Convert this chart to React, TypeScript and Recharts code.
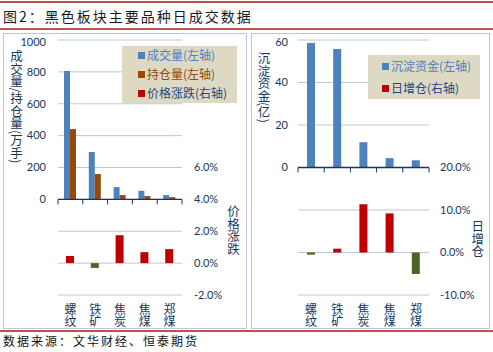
import { ComposedChart, Bar, XAxis, YAxis, CartesianGrid, ReferenceLine, Legend, Cell } from 'recharts'

const categories = ['螺纹', '铁矿', '焦炭', '焦煤', '郑煤']
const volume = [805, 297, 77, 54, 27]
const openInterest = [441, 159, 27, 21, 14]
const priceChange = [0.0045, -0.003, 0.0175, 0.0069, 0.0088]
const funds = [58.6, 55.8, 11.9, 4.4, 3.4]
const oiChange = [-0.005, 0.009, 0.1135, 0.092, -0.0505]

const volTicks = [-600, -400, -200, 0, 200, 400, 600, 800, 1000]
const priceTicks = [-0.02, 0, 0.02, 0.04, 0.06]
const fundTicks = [-60, -50, -40, -30, -20, -10, 0, 10, 20, 30, 40, 50, 60]
const oiTicks = [-0.1, 0, 0.1, 0.2]

const tradeData = categories.map((name, i) => ({
  name, volume: volume[i], openInterest: openInterest[i], priceChange: priceChange[i],
}))
const fundData = categories.map((name, i) => ({ name, funds: funds[i], oiChange: oiChange[i] }))

const NAVY = '#17375e'
const GRID = '#b9c8dc'
const BORDER = '#b7c9df'
const BLUE = '#4f81bd'
const BROWN = '#984807'
const RED = '#c00000'
const OLIVE = '#4f6228'
const FONT = "Lato, 'Noto Sans CJK SC', sans-serif"
const CJK = "'Noto Sans CJK SC', sans-serif"

// category names written top-to-bottom, one character per line
function CategoryTick({ x, y, payload }: any) {
  const chars = String(payload.value).split('')
  return (
    <g>
      {chars.map((c, i) => (
        <text key={i} x={x} y={y + 18.5 + i * 12.8} textAnchor="middle" fill={NAVY} fontSize={12} fontFamily={CJK}>
          {c}
        </text>
      ))}
    </g>
  )
}

function PositiveTick({ x, y, payload }: any) {
  if (payload.value < 0) return <g />
  return (
    <text x={x} y={y} dy="0.35em" textAnchor="end" fill={NAVY} fontSize={11} fontFamily={FONT}>
      {payload.value}
    </text>
  )
}

function PercentTick({ x, y, payload }: any) {
  return (
    <text x={x} y={y} dy="0.35em" textAnchor="start" fill={NAVY} fontSize={11} fontFamily={FONT}>
      {`${(payload.value * 100).toFixed(1)}%`}
    </text>
  )
}

// axis line sitting at value 0, with tick marks between categories
function ZeroAxis(props: any) {
  const { x1, x2, y1 } = props
  const step = (x2 - x1) / categories.length
  return (
    <g>
      <line x1={x1} x2={x2} y1={y1} y2={y1} stroke={NAVY} strokeWidth={1.3} />
      {categories.concat(['']).map((_, i) => (
        <line key={i} x1={x1 + i * step} x2={x1 + i * step} y1={y1} y2={y1 + 5} stroke={NAVY} />
      ))}
    </g>
  )
}

function vTitle(text: string, dx: number, dy: number) {
  return (p: any) => {
    const vb = p.viewBox || { x: 0, y: 0 }
    return (
      <text
        x={vb.x + dx}
        y={vb.y + dy}
        fill={NAVY}
        fontSize={12.5}
        fontFamily={CJK}
        style={{ writingMode: 'vertical-rl' }}
      >
        {text}
      </text>
    )
  }
}

function legendBox(order: string[], textColors: string[], w: number, h: number, rowH: number, padLeft: number) {
  return (p: any) => {
    const items = [...(p.payload || [])].sort(
      (a: any, b: any) => order.indexOf(a.dataKey) - order.indexOf(b.dataKey),
    )
    return (
      <div style={{ width: w, height: h, background: '#ddd9c3', paddingLeft: padLeft, boxSizing: 'border-box' }}>
        {items.map((e: any, i: number) => (
          <div key={i} style={{ height: rowH, display: 'flex', alignItems: 'center' }}>
            <span style={{ width: 7, height: 7, background: e.color, marginRight: 2, display: 'inline-block' }} />
            <span style={{ fontSize: 12, fontFamily: CJK, color: textColors[i], lineHeight: 1 }}>{e.value}</span>
          </div>
        ))}
      </div>
    )
  }
}

function TradeChart() {
  return (
    <ComposedChart width={244} height={296} data={tradeData} barGap={0}
      margin={{ top: 7, right: 0, bottom: 0, left: 0 }}>
      <CartesianGrid xAxisId="v" yAxisId="l" vertical={false} stroke={GRID} />
      <XAxis xAxisId="v" dataKey="name" height={34} axisLine={false} tickLine={false}
        tickSize={0} tickMargin={0} interval={0} tick={<CategoryTick />} />
      <XAxis xAxisId="p" dataKey="name" orientation="top" height={0} hide />
      <YAxis yAxisId="l" width={55} domain={[-600, 1000]} ticks={volTicks} axisLine={false}
        tickLine={false} tickSize={0} tickMargin={12} tick={<PositiveTick />}
        label={{ value: '', content: vTitle('成交量/持仓量(万手)', 13.5, 10) }} />
      <YAxis yAxisId="r" orientation="right" width={65} domain={[-0.02, 0.14]} ticks={priceTicks}
        axisLine={false} tickLine={false} tickSize={0} tickMargin={12} tick={<PercentTick />}
        label={{ value: '', content: vTitle('价格涨跌', 51.5, 165) }} />
      <Legend layout="vertical" align="center" verticalAlign="middle"
        wrapperStyle={{ left: 119, top: 12.7, width: 115 }}
        content={legendBox(['volume', 'openInterest', 'priceChange'], [BLUE, BROWN, '#1f497d'], 115, 57, 19, 16)} />
      <Bar xAxisId="v" yAxisId="l" dataKey="volume" name="成交量(左轴)" fill={BLUE} barSize={6} isAnimationActive={false} />
      <Bar xAxisId="v" yAxisId="l" dataKey="openInterest" name="持仓量(左轴)" fill={BROWN} barSize={6} isAnimationActive={false} />
      <Bar xAxisId="p" yAxisId="r" dataKey="priceChange" name="价格涨跌(右轴)" fill={RED} barSize={8} isAnimationActive={false}>
        {priceChange.map((v, i) => <Cell key={i} fill={v < 0 ? OLIVE : RED} />)}
      </Bar>
      <ReferenceLine xAxisId="v" yAxisId="l" y={0} shape={ZeroAxis} />
    </ComposedChart>
  )
}

function FundChart() {
  return (
    <ComposedChart width={239} height={296} data={fundData} barGap={0}
      margin={{ top: 7, right: 0, bottom: 0, left: 0 }}>
      <CartesianGrid xAxisId="v" yAxisId="l" vertical={false} stroke={GRID} />
      <XAxis xAxisId="v" dataKey="name" height={34} axisLine={false} tickLine={false}
        tickSize={0} tickMargin={0} interval={0} tick={<CategoryTick />} />
      <XAxis xAxisId="p" dataKey="name" orientation="top" height={0} hide />
      <YAxis yAxisId="l" width={47} domain={[-60, 60]} ticks={fundTicks} axisLine={false}
        tickLine={false} tickSize={0} tickMargin={10} tick={<PositiveTick />}
        label={{ value: '', content: vTitle('沉淀资金(亿)', 13, 12) }} />
      <YAxis yAxisId="r" orientation="right" width={61} domain={[-0.1, 0.5]} ticks={oiTicks}
        axisLine={false} tickLine={false} tickSize={0} tickMargin={11} tick={<PercentTick />}
        label={{ value: '', content: vTitle('日增仓', 48.7, 180) }} />
      <Legend layout="vertical" align="center" verticalAlign="middle"
        wrapperStyle={{ left: 117, top: 22, width: 112 }}
        content={legendBox(['funds', 'oiChange'], [BLUE, '#1f497d'], 112, 44, 22, 14)} />
      <Bar xAxisId="v" yAxisId="l" dataKey="funds" name="沉淀资金(左轴)" fill={BLUE} barSize={8} isAnimationActive={false} />
      <Bar xAxisId="p" yAxisId="r" dataKey="oiChange" name="日增仓(右轴)" fill={RED} barSize={8} isAnimationActive={false}>
        {oiChange.map((v, i) => <Cell key={i} fill={v < 0 ? OLIVE : RED} />)}
      </Bar>
      <ReferenceLine xAxisId="v" yAxisId="l" y={0} shape={ZeroAxis} />
    </ComposedChart>
  )
}

export default function App() {
  return (
    <div style={{ position: 'absolute', left: 0, top: 0, width: 493, height: 352, background: '#fff', overflow: 'hidden' }}>
      <div style={{ position: 'absolute', left: 0, top: 1, width: 493, height: 2, background: '#c0504d' }} />
      <div style={{
        position: 'absolute', left: 3, top: 6, fontSize: 14, letterSpacing: 2, lineHeight: '20px',
        fontFamily: CJK, color: '#1a1a1a', whiteSpace: 'nowrap',
      }}>
        图2：黑色板块主要品种日成交数据
      </div>
      <div style={{ position: 'absolute', left: 0, top: 28, width: 493, height: 2, background: '#c0504d' }} />

      <div style={{ position: 'absolute', left: 3, top: 33, width: 244, height: 296, border: `1px solid ${BORDER}`, boxSizing: 'border-box' }} />
      <div style={{ position: 'absolute', left: 3, top: 33 }}>
        <TradeChart />
      </div>

      <div style={{ position: 'absolute', left: 251, top: 33, width: 239, height: 296, border: `1px solid ${BORDER}`, boxSizing: 'border-box' }} />
      <div style={{ position: 'absolute', left: 251, top: 33 }}>
        <FundChart />
      </div>

      <div style={{ position: 'absolute', left: 0, top: 330, width: 493, height: 2, background: '#c0504d' }} />
      <div style={{
        position: 'absolute', left: 3, top: 333, fontSize: 12, letterSpacing: 2, lineHeight: '16px',
        fontFamily: CJK, color: '#111', whiteSpace: 'nowrap',
      }}>
        数据来源：文华财经、恒泰期货
      </div>
    </div>
  )
}
